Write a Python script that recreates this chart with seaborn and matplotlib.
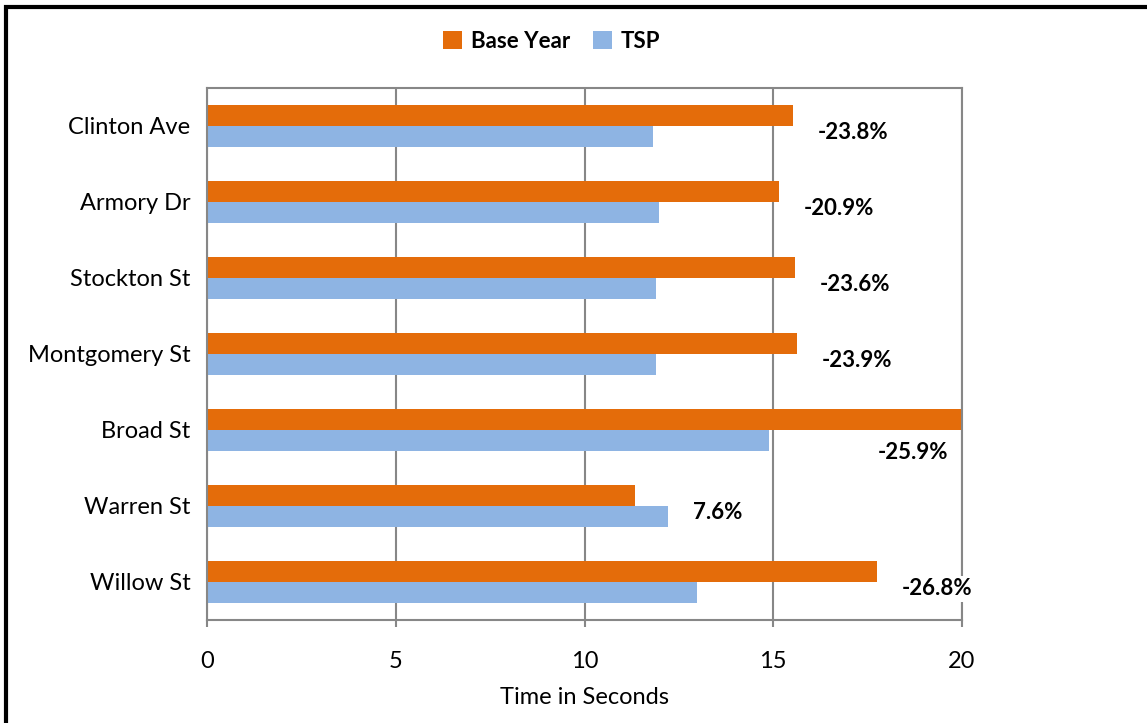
import numpy as np
import pandas as pd
import seaborn as sns
from matplotlib import pyplot as plt
from matplotlib.patches import Rectangle

# values
streets = ["Clinton Ave", "Armory Dr", "Stockton St", "Montgomery St",
           "Broad St", "Warren St", "Willow St"]
base_year = [15.52, 15.15, 15.58, 15.63, 20.0, 11.34, 17.75]
tsp = [11.81, 11.97, 11.89, 11.89, 14.89, 12.21, 12.98]
pct_labels = ["-23.8%", "-20.9%", "-23.6%", "-23.9%", "-25.9%", "7.6%",
              "-26.8%"]

series = ["Base Year", "TSP"]
colors = ["#E46C0A", "#8EB4E3"]
grid_col = "#878787"


def main():
    df = pd.DataFrame({
        "Street": streets * 2,
        "Series": [series[0]] * len(streets) + [series[1]] * len(streets),
        "Seconds": base_year + tsp,
    })

    sns.set_style("white")
    plt.rcParams['font.family'] = ['Lato', 'DejaVu Sans']
    plt.rcParams['text.color'] = 'black'
    plt.rcParams['xtick.color'] = 'black'
    plt.rcParams['ytick.color'] = 'black'
    plt.rcParams['axes.labelcolor'] = 'black'

    fig = plt.figure(figsize=(11.47, 7.23), dpi=100)
    ax = fig.add_axes([207 / 1147, 1 - 620 / 723, 755 / 1147, 532 / 723])

    sns.barplot(data=df, y="Street", x="Seconds", hue="Series",
                order=streets, hue_order=series, palette=colors,
                saturation=1, orient="h", width=0.56, gap=0, linewidth=0,
                ax=ax, legend=True)

    ax.set_xlim(0, 20)
    ax.set_ylim(len(streets) - 0.5, -0.5)
    ax.set_xticks([0, 5, 10, 15, 20])
    ax.xaxis.grid(True, color=grid_col, linewidth=1.5)
    ax.set_axisbelow(True)
    for sp in ax.spines.values():
        sp.set_color(grid_col)
        sp.set_linewidth(1.5)
    ax.tick_params(axis="x", length=5, width=1.5, color=grid_col,
                   labelcolor="black", labelsize=17, pad=17,
                   direction="out", bottom=True)
    ax.tick_params(axis="y", length=0, labelsize=17, pad=12,
                   labelcolor="black")
    ax.set_ylabel("")
    ax.set_xlabel("Time in Seconds", fontsize=17, labelpad=11)

    # percent change labels next to the longer bar
    for i, lab in enumerate(pct_labels):
        end = max(base_year[i], tsp[i])
        x = end + 0.66
        dy = 0.09
        if x > 19:
            x = 17.78
            dy = 0.29
        ax.text(x, i + dy, lab, ha="left", va="center", fontsize=16,
                fontweight="bold",
                bbox=dict(facecolor="white", edgecolor="none", pad=2))

    handles, labels = ax.get_legend_handles_labels()
    ax.get_legend().remove()
    fig.legend(handles, labels, loc="center", bbox_to_anchor=(0.481, 0.943),
               ncol=2, frameon=False, handlelength=0.85, handleheight=0.85,
               handletextpad=0.4, columnspacing=1.0,
               prop={"weight": "bold", "size": 16})

    # outer chart border (only top and left visible in the reference)
    fig.patches.append(Rectangle((5.5 / 1147, -0.1), 1.2, 1.1 - 7 / 723,
                                 transform=fig.transFigure, fill=False,
                                 edgecolor="black", linewidth=3))

    fig.savefig("out.png", dpi=100, facecolor="white")


if __name__ == "__main__":
    main()
